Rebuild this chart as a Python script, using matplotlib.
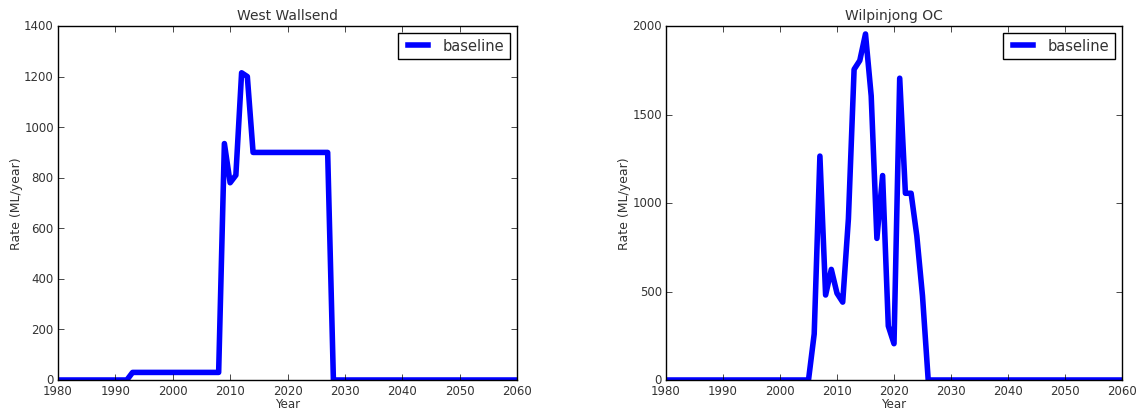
import numpy as np
from matplotlib import pyplot as plt

# West Wallsend, yearly values (ML/year)
ww_years = [1980, 1992, 1993, 2008, 2009, 2010, 2011, 2012, 2013, 2014, 2027, 2028, 2060]
ww_vals = [0, 0, 30, 30, 935, 780, 810, 1215, 1200, 900, 900, 0, 0]

# Wilpinjong OC
wp_years = [1980, 2005, 2006, 2007, 2008, 2009, 2010, 2011, 2012, 2013, 2014, 2015,
            2016, 2017, 2018, 2019, 2020, 2021, 2022, 2023, 2024, 2025, 2026, 2060]
wp_vals = [0, 0, 260, 1265, 480, 625, 490, 440, 910, 1755, 1805, 1955,
           1605, 800, 1155, 305, 205, 1705, 1055, 1055, 815, 475, 0, 0]

plt.style.use('classic')
plt.rcParams['font.family'] = 'DejaVu Sans'
plt.rcParams['axes.formatter.useoffset'] = False

txt = '#333333'

fig = plt.figure(figsize=(11.36, 4.10), dpi=100, facecolor='white')
W, H = 1136.0, 410.0
ax1 = fig.add_axes([58 / W, 29 / H, 459 / W, 354 / H])
ax2 = fig.add_axes([666 / W, 29 / H, 456 / W, 354 / H])

panels = [
    (ax1, ww_years, ww_vals, 'West Wallsend', 1400, np.arange(0, 1401, 200)),
    (ax2, wp_years, wp_vals, 'Wilpinjong OC', 2000, np.arange(0, 2001, 500)),
]

for ax, xs, ys, title, ymax, yt in panels:
    ax.set_facecolor('white')
    ax.plot(xs, ys, color='blue', linewidth=4, label='baseline')
    ax.set_xlim(1980, 2060)
    ax.set_ylim(0, ymax)
    ax.set_xticks(np.arange(1980, 2061, 10))
    ax.set_yticks(yt)
    ax.tick_params(labelsize=8.5, labelcolor=txt, direction='in', top=True, right=True, pad=3)
    ax.set_title(title, fontsize=10, color=txt)
    ax.set_xlabel('Year', fontsize=8.5, labelpad=0, color=txt)
    ax.set_ylabel('Rate (ML/year)', fontsize=9, color=txt)
    ax.yaxis.set_label_coords(-0.076, 0.5)
    leg = ax.legend(loc='upper right', fontsize=10.5, handlelength=2.0, borderpad=0.35,
                    handletextpad=0.7, frameon=True, fancybox=False)
    for t in leg.get_texts():
        t.set_color(txt)

fig.savefig('out.png', dpi=100, facecolor='white')
